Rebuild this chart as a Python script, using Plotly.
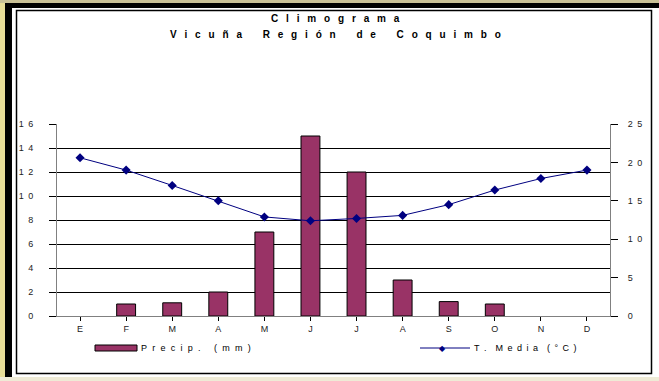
import plotly.graph_objects as go

months = ["E", "F", "M", "A", "M", "J", "J", "A", "S", "O", "N", "D"]
precip = [0, 1.0, 1.1, 2.0, 7.0, 15.0, 12.0, 3.0, 1.2, 1.0, 0, 0]
temp = [20.6, 19.0, 17.0, 15.0, 12.9, 12.4, 12.7, 13.1, 14.5, 16.4, 17.9, 19.0]
left_ticks = [0, 2, 4, 6, 8, 10, 12, 14, 16]
right_ticks = [0, 5, 10, 15, 20, 25]
title1 = "Climograma"
title2 = "Vicuña Región de Coquimbo"
legend_precip = "Precip. (mm)"
legend_temp = "T. Media (°C)"

W, H = 659, 381
L, R, T, B = 57, 610, 124, 316
FONT = "Arial, Liberation Sans, sans-serif"


def px(x):
    return (x - L) / (R - L)


def py(y):
    return (B - y) / (B - T)


def spaced(s, gap="\u2002", word="\u2002\u2002\u2002"):
    out = []
    for w in s.split(" "):
        out.append(gap.join(list(w)))
    return word.join(out)


def spaced_num(v):
    return "\u2002".join(list(str(v)))


x = list(range(len(months)))

fig = go.Figure()
fig.add_trace(go.Bar(
    x=x, y=precip,
    marker=dict(color="#993366",
                line=dict(color="#000000", width=[1 if v > 0 else 0 for v in precip])),
    width=0.41, showlegend=False, yaxis="y"))
fig.add_trace(go.Scatter(
    x=x, y=temp, mode="lines+markers", yaxis="y2",
    line=dict(color="#000080", width=1),
    marker=dict(symbol="diamond", size=7, color="#000080"), showlegend=False))

shapes = []


def rect(x0, y0, x1, y1, fill=None, line=None, lw=0, layer="below"):
    shapes.append(dict(type="rect", xref="paper", yref="paper",
                       x0=px(x0), x1=px(x1), y0=py(y0), y1=py(y1),
                       fillcolor=fill if fill else "rgba(0,0,0,0)",
                       line=dict(color=line if line else "rgba(0,0,0,0)", width=lw),
                       layer=layer))


# frame
rect(0, 0, 5, 381, fill="#E8DE98")
rect(0, 0, 659, 3, fill="#C9C197")
rect(5, 3, 659, 8, fill="#000000")
rect(5, 3, 12, 377, fill="#000000")
rect(0, 377, 659, 381, fill="#EFEBD6")
rect(16.5, 10.5, 651.5, 373.5, line="#000000", lw=1.5)

# legend
rect(95, 345, 137, 351, fill="#993366", line="#000000", lw=1, layer="above")
shapes.append(dict(type="line", xref="paper", yref="paper",
                   x0=px(420), x1=px(470), y0=py(348), y1=py(348),
                   line=dict(color="#000080", width=1), layer="above"))

TGAP = "\u2002\u2009\u200a"
annotations = [
    dict(text="<b>" + spaced(title1, gap=TGAP) + "</b>", xref="paper", yref="paper",
         x=px(335), y=py(18), showarrow=False, font=dict(family=FONT, size=10, color="#000"),
         xanchor="center", yanchor="middle"),
    dict(text="<b>" + spaced(title2, gap=TGAP, word=TGAP + TGAP + "\u2002") + "</b>",
         xref="paper", yref="paper",
         x=px(335), y=py(35), showarrow=False, font=dict(family=FONT, size=10, color="#000"),
         xanchor="center", yanchor="middle"),
    dict(text=spaced(legend_precip, gap="\u2002\u200a", word="\u2002\u2002\u2002"),
         xref="paper", yref="paper",
         x=px(139), y=py(348), showarrow=False, font=dict(family=FONT, size=9, color="#000"),
         xanchor="left", yanchor="middle"),
    dict(text=spaced(legend_temp, word="\u2002\u2002"), xref="paper", yref="paper",
         x=px(472), y=py(348), showarrow=False, font=dict(family=FONT, size=9, color="#000"),
         xanchor="left", yanchor="middle"),
    dict(text="◆", xref="paper", yref="paper", x=px(442), y=py(348), showarrow=False,
         font=dict(family="DejaVu Sans", size=8, color="#000080"),
         xanchor="center", yanchor="middle"),
]

fig.update_layout(
    width=W, height=H,
    margin=dict(l=L, r=W - R, t=T, b=H - B, pad=0),
    paper_bgcolor="#FFFFFF", plot_bgcolor="#FFFFFF",
    font=dict(family=FONT, size=9, color="#000"),
    hovermode=False,
    xaxis=dict(
        tickmode="array", tickvals=x, ticktext=months, range=[-0.5, 11.5],
        showgrid=False, zeroline=False, showline=True, linecolor="#808080", linewidth=1,
        ticks="outside", ticklen=4, tickcolor="#000", tickson="boundaries",
        tickfont=dict(family=FONT, size=9, color="#222")),
    yaxis=dict(
        range=[0, 16], tickmode="array", tickvals=left_ticks,
        ticktext=[spaced_num(v) for v in left_ticks],
        showgrid=True, gridcolor="#000000", gridwidth=1, zeroline=False,
        showline=True, linecolor="#808080", linewidth=1,
        ticks="outside", ticklen=7, tickcolor="#000", ticklabelstandoff=14,
        tickfont=dict(family=FONT, size=9, color="#222")),
    yaxis2=dict(
        range=[0, 25], overlaying="y", side="right", tickmode="array", tickvals=right_ticks,
        ticktext=[spaced_num(v) for v in right_ticks],
        showgrid=False, zeroline=False, showline=True, linecolor="#808080", linewidth=1,
        ticks="outside", ticklen=7, tickcolor="#000", ticklabelstandoff=8,
        tickfont=dict(family=FONT, size=9, color="#222")),
    shapes=shapes, annotations=annotations, showlegend=False,
)

fig.write_html("out.html", config={"displayModeBar": False, "staticPlot": True},
               post_script="document.body.style.margin='0';document.body.style.padding='0';")
